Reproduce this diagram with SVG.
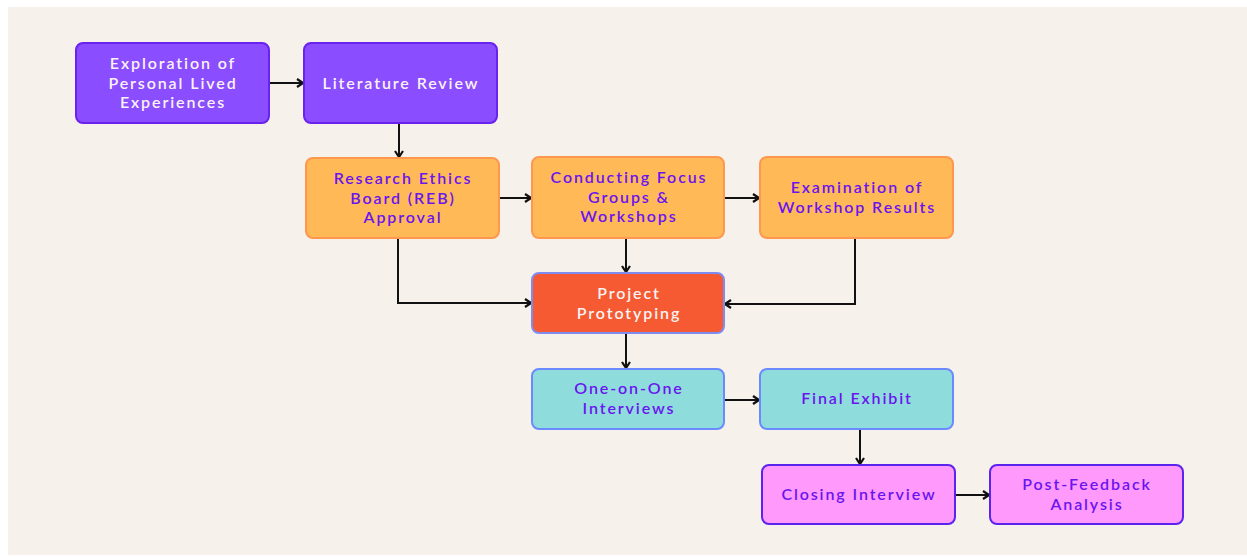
<svg xmlns="http://www.w3.org/2000/svg" width="1247" height="557" viewBox="0 0 1247 557">
<defs>
<style>
.bg{fill:#f6f1ea}
.n rect{stroke-width:2}
.purple rect{fill:#8a4dff;stroke:#6a22ee}
.orange rect{fill:#ffb957;stroke:#ff984e}
.red rect{fill:#f55a32;stroke:#7e8cf2}
.teal rect{fill:#8edcdb;stroke:#6b8aff}
.pink rect{fill:#ff99fc;stroke:#5a24ee}
.n text{font-family:Lato,"Open Sans","DejaVu Sans",sans-serif;font-size:16px;font-weight:600;text-anchor:middle;letter-spacing:1.9px}
.purple text,.red text{fill:#fbf3f3}
.orange text,.teal text,.pink text{fill:#6a14f0}
.c path{fill:none;stroke:#111;stroke-width:2}
</style>
<marker id="ah" viewBox="0 0 10 10" refX="9" refY="5" markerWidth="10" markerHeight="10" markerUnits="userSpaceOnUse" orient="auto">
<path d="M3,1 L9,5 L3,9" fill="none" stroke="#111" stroke-width="2.2"/>
</marker>
</defs>
<rect width="1247" height="557" fill="#ffffff"/>
<rect class="bg" x="8" y="7" width="1239" height="548"/>

<g class="c">
<path d="M269,83 H303" marker-end="url(#ah)"/>
<path d="M399,123 V157" marker-end="url(#ah)"/>
<path d="M499,198 H531" marker-end="url(#ah)"/>
<path d="M724,198 H759" marker-end="url(#ah)"/>
<path d="M626,238 V272" marker-end="url(#ah)"/>
<path d="M398,238 V303 H531" marker-end="url(#ah)"/>
<path d="M855,238 V304 H725" marker-end="url(#ah)"/>
<path d="M626,333 V368" marker-end="url(#ah)"/>
<path d="M724,400 H759" marker-end="url(#ah)"/>
<path d="M860,429 V464" marker-end="url(#ah)"/>
<path d="M955,495 H989" marker-end="url(#ah)"/>
</g>

<g id="exploration" class="n purple">
<rect x="76" y="43" width="193" height="80" rx="7"/>
<text x="173" y="69">Exploration of</text>
<text x="173" y="88.5">Personal Lived</text>
<text x="173" y="108">Experiences</text>
</g>
<g id="literature" class="n purple">
<rect x="304" y="43" width="193" height="80" rx="7"/>
<text x="401" y="89">Literature Review</text>
</g>
<g id="reb" class="n orange">
<rect x="306" y="158" width="193" height="80" rx="7"/>
<text x="403" y="184">Research Ethics</text>
<text x="403" y="203.5">Board (REB)</text>
<text x="403" y="223">Approval</text>
</g>
<g id="focus" class="n orange">
<rect x="532" y="157" width="192" height="81" rx="7"/>
<text x="629" y="183">Conducting Focus</text>
<text x="629" y="202.5">Groups &amp;</text>
<text x="629" y="222">Workshops</text>
</g>
<g id="examination" class="n orange">
<rect x="760" y="157" width="193" height="81" rx="7"/>
<text x="857" y="193">Examination of</text>
<text x="857" y="213">Workshop Results</text>
</g>
<g id="prototyping" class="n red">
<rect x="532" y="273" width="192" height="60" rx="7"/>
<text x="629" y="299">Project</text>
<text x="629" y="318.5">Prototyping</text>
</g>
<g id="interviews" class="n teal">
<rect x="532" y="369" width="192" height="60" rx="7"/>
<text x="629" y="394">One-on-One</text>
<text x="629" y="413.5">Interviews</text>
</g>
<g id="exhibit" class="n teal">
<rect x="760" y="369" width="193" height="60" rx="7"/>
<text x="857" y="404">Final Exhibit</text>
</g>
<g id="closing" class="n pink">
<rect x="762" y="465" width="193" height="59" rx="7"/>
<text x="859" y="500">Closing Interview</text>
</g>
<g id="postfeedback" class="n pink">
<rect x="990" y="465" width="193" height="59" rx="7"/>
<text x="1087" y="490">Post-Feedback</text>
<text x="1087" y="509.5">Analysis</text>
</g>
</svg>
